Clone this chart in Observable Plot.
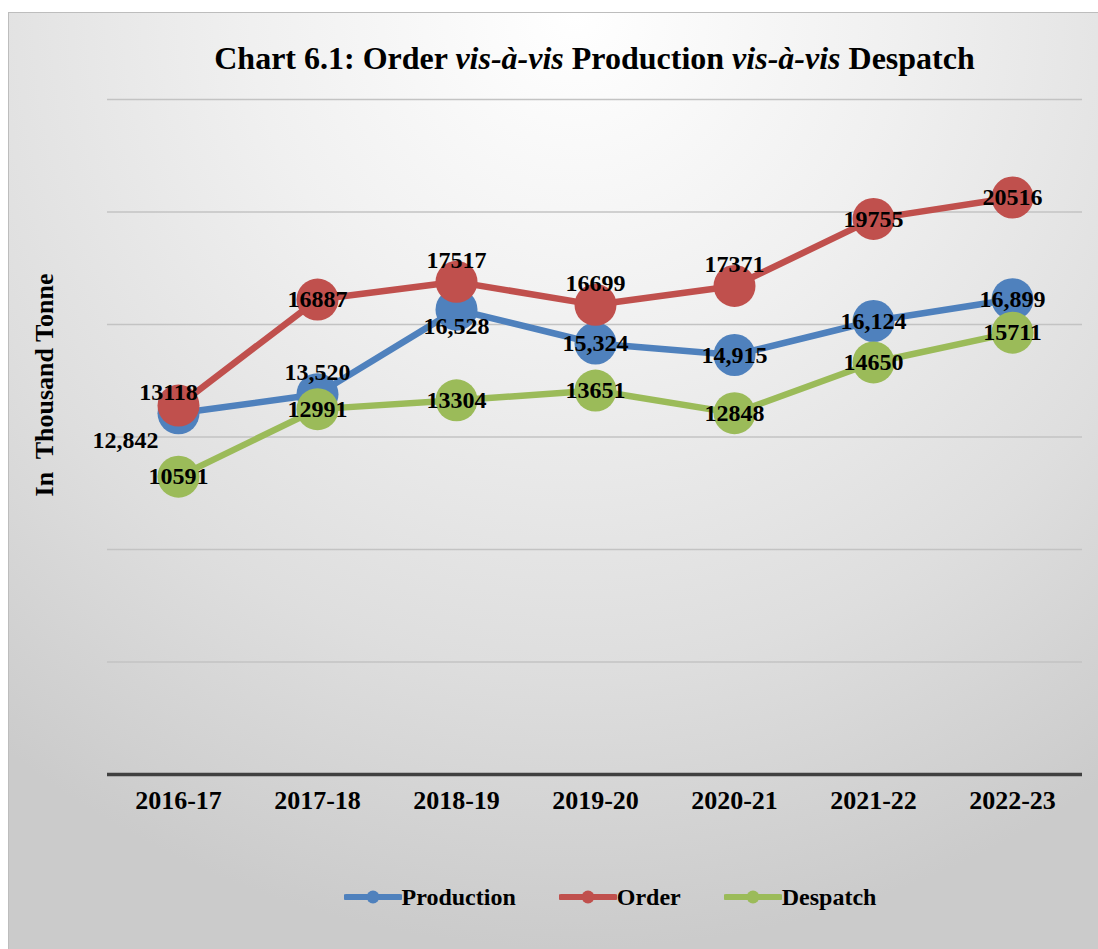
<!DOCTYPE html>
<html>
<head>
<meta charset="utf-8">
<script src="https://cdn.jsdelivr.net/npm/d3@7"></script>
<script src="https://cdn.jsdelivr.net/npm/@observablehq/plot@0.6"></script>
<style>
  html, body { margin: 0; padding: 0; background: #ffffff; width: 1098px; height: 949px; overflow: hidden; }
  #frame { position: absolute; left: 8px; top: 12px; width: 1090px; height: 937px;
    border-left: 1px solid #bdbdbd; border-top: 1px solid #bdbdbd; box-sizing: border-box;
    background: radial-gradient(ellipse 85% 100% at 52% 0%, #ffffff 0%, #f0f0f0 35%, #dedede 70%, #cbcbcb 100%); }
  #title { position: absolute; left: 107px; width: 975px; top: 37px; text-align: center;
    font-family: "Liberation Serif", "Times New Roman", serif; font-weight: bold; font-size: 32px; line-height: 42px; color: #000; white-space: nowrap; }
  #ylabel { position: absolute; left: 45px; top: 385px; transform: translate(-50%, -50%) rotate(-90deg);
    font-family: "Liberation Serif", serif; font-weight: bold; font-size: 26px; white-space: pre; color: #000; }
  #chart { position: absolute; left: 0px; top: 80px; }
  #legend { position: absolute; left: 0; width: 1098px; top: 880px; height: 34px; display: flex; justify-content: center; align-items: center;
    font-family: "Liberation Serif", serif; font-weight: bold; font-size: 24px; color: #000; padding-left: 122px; box-sizing: border-box; }
  .item { display: flex; align-items: center; margin-right: 43px; }
  .item:last-child { margin-right: 0; }
  .item svg { display: block; }
</style>
</head>
<body>
<div id="frame"></div>
<div id="title">Chart 6.1: Order <i>vis-à-vis</i> Production <i>vis-à-vis</i> Despatch</div>
<div id="ylabel">In  Thousand Tonne</div>
<div id="chart"></div>
<div id="legend"></div>
<script>
// ---- data ----
const years = ["2016-17", "2017-18", "2018-19", "2019-20", "2020-21", "2021-22", "2022-23"];
const production = [12842, 13520, 16528, 15324, 14915, 16124, 16899];
const order = [13118, 16887, 17517, 16699, 17371, 19755, 20516];
const despatch = [10591, 12991, 13304, 13651, 12848, 14650, 15711];
const seriesNames = ["Production", "Order", "Despatch"];
const gridValues = [0, 4000, 8000, 12000, 16000, 20000, 24000];
// label placement keys (style config, not data)
const productionLabelPlace = ["leftBelow", "above", "below", "center", "center", "center", "center"];
const orderLabelPlace = ["aboveLeft", "center", "above", "above", "above", "center", "center"];
const despatchLabelPlace = ["center", "center", "center", "center", "center", "center", "center"];

const colors = {Production: "#4F81BD", Order: "#C0504D", Despatch: "#9BBB59"};
const offsets = {
  center: {dx: 0, dy: 0},
  above: {dx: 0, dy: -22},
  below: {dx: 0, dy: 17},
  leftBelow: {dx: -53, dy: 27},
  aboveLeft: {dx: -10, dy: -13}
};

const seriesValues = {Production: production, Order: order, Despatch: despatch};
const seriesPlace = {Production: productionLabelPlace, Order: orderLabelPlace, Despatch: despatchLabelPlace};
const fmt = {Production: d3.format(","), Order: d3.format("d"), Despatch: d3.format("d")};

const rows = [];
for (const s of seriesNames) {
  seriesValues[s].forEach((v, i) => rows.push({series: s, year: years[i], value: v, place: seriesPlace[s][i], label: fmt[s](v)}));
}

const marks = [];
marks.push(Plot.ruleY(gridValues.filter(v => v > 0), {stroke: "#c3c3c3", strokeWidth: 1.6}));
marks.push(Plot.ruleY([0], {stroke: "#404040", strokeWidth: 3.5}));
for (const s of seriesNames) {
  const d = rows.filter(r => r.series === s);
  marks.push(Plot.line(d, {x: "year", y: "value", stroke: colors[s], strokeWidth: 6.5, strokeLinejoin: "round"}));
  marks.push(Plot.dot(d, {x: "year", y: "value", r: 21, fill: colors[s], stroke: "none"}));
}
for (const [key, off] of Object.entries(offsets)) {
  const d = rows.filter(r => r.place === key);
  if (!d.length) continue;
  marks.push(Plot.text(d, {x: "year", y: "value", text: "label", dx: off.dx, dy: off.dy,
    fontSize: 24, fontWeight: "bold", fill: "#000"}));
}
marks.push(Plot.text(years, {x: d => d, frameAnchor: "bottom", dy: 34, fontSize: 26, fontWeight: "bold", fill: "#000"}));

const chart = Plot.plot({
  width: 1098,
  height: 770,
  marginTop: 19,
  marginBottom: 76,
  marginLeft: 107,
  marginRight: 16,
  style: {fontFamily: "Liberation Serif, Times New Roman, serif", background: "transparent", overflow: "visible"},
  x: {type: "point", domain: years, padding: 0.5, axis: null},
  y: {domain: [0, 24000], axis: null},
  marks
});
document.getElementById("chart").appendChild(chart);

// legend
const legend = document.getElementById("legend");
for (const s of seriesNames) {
  const item = document.createElement("div");
  item.className = "item";
  const ns = "http://www.w3.org/2000/svg";
  const svg = document.createElementNS(ns, "svg");
  svg.setAttribute("width", 58); svg.setAttribute("height", 16);
  const ln = document.createElementNS(ns, "line");
  ln.setAttribute("x1", 2); ln.setAttribute("x2", 56); ln.setAttribute("y1", 8); ln.setAttribute("y2", 8);
  ln.setAttribute("stroke", colors[s]); ln.setAttribute("stroke-width", 6); ln.setAttribute("stroke-linecap", "round");
  const c = document.createElementNS(ns, "circle");
  c.setAttribute("cx", 29); c.setAttribute("cy", 8); c.setAttribute("r", 6.5); c.setAttribute("fill", colors[s]);
  svg.appendChild(ln); svg.appendChild(c);
  const t = document.createElement("span");
  t.textContent = s;
  item.appendChild(svg); item.appendChild(t);
  legend.appendChild(item);
}
</script>
</body>
</html>
